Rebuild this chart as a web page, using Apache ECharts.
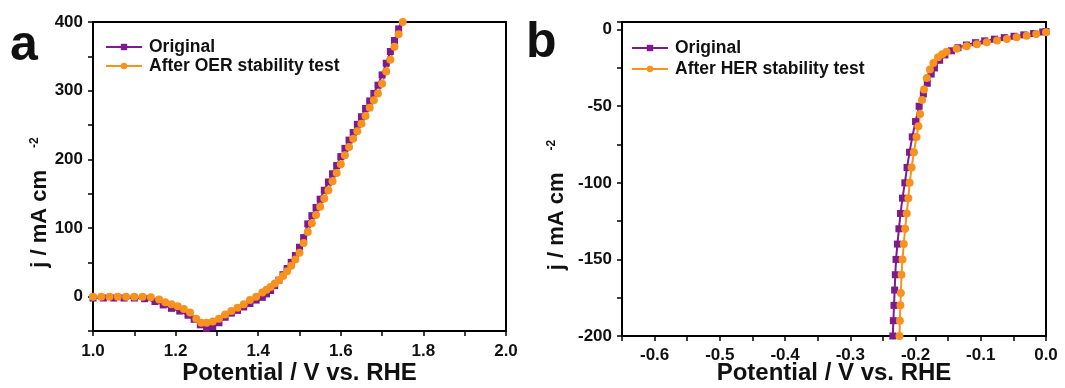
<!DOCTYPE html>
<html>
<head>
<meta charset="utf-8">
<script src="https://cdn.jsdelivr.net/npm/echarts@6/dist/echarts.min.js"></script>
<style>
html,body{margin:0;padding:0;background:#fff;}
#c{width:1065px;height:388px;}
</style>
</head>
<body>
<div id="c"></div>
<script>
// ---- Panel a (OER) ----
const oerOrigX = [1.000,1.025,1.050,1.075,1.100,1.125,1.150,1.170,1.190,1.210,1.230,1.245,1.260,1.275,1.290,1.305,1.320,1.335,1.350,1.365,1.380,1.395,1.410,1.420,1.430,1.440,1.450,1.460,1.470,1.480,1.490,1.500,1.510,1.520,1.530,1.540,1.550,1.560,1.570,1.580,1.590,1.600,1.610,1.620,1.630,1.640,1.650,1.660,1.670,1.680,1.690,1.700,1.710,1.720,1.730,1.740,1.750];
const oerOrigY = [-2,-2,-2,-2,-2,-3,-7,-12,-17,-21,-27,-33,-41,-46,-44,-38,-30,-24,-20,-15,-10,-5,-1,4,9,16,24,32,41,50,60,72,86,106,118,130,142,155,167,179,191,204,216,228,239,251,262,274,285,296,308,323,340,357,373,390,407];
const oerAfterX = [1.000,1.020,1.040,1.060,1.080,1.100,1.120,1.140,1.160,1.175,1.190,1.205,1.220,1.235,1.250,1.262,1.275,1.290,1.305,1.320,1.335,1.350,1.365,1.380,1.395,1.410,1.420,1.430,1.440,1.450,1.460,1.470,1.480,1.490,1.500,1.510,1.520,1.530,1.540,1.550,1.560,1.570,1.580,1.590,1.600,1.610,1.620,1.630,1.640,1.650,1.660,1.670,1.680,1.690,1.700,1.710,1.720,1.730,1.740,1.750];
const oerAfterY = [0,0,0,0,0,0,0,-1,-4,-8,-11,-14,-18,-23,-32,-38,-38,-36,-32,-26,-21,-16,-11,-5,0,6,10,14,19,24,30,37,45,54,64,78,94,107,119,131,143,155,168,180,193,206,218,230,241,252,263,275,286,296,310,328,345,364,382,400];

// ---- Panel b (HER) ----
const herOrigX = [-0.2355,-0.2348,-0.2340,-0.2330,-0.2320,-0.2310,-0.2299,-0.2278,-0.2255,-0.2230,-0.2200,-0.2164,-0.2130,-0.2092,-0.2050,-0.2000,-0.1945,-0.1880,-0.1820,-0.1760,-0.1710,-0.1630,-0.1550,-0.1450,-0.1350,-0.1220,-0.1080,-0.0940,-0.0790,-0.0640,-0.0490,-0.0340,-0.0190,-0.0050,0.0];
const herOrigY = [-210,-200,-190,-180,-170,-160,-150,-140,-130,-120,-110,-100,-90,-80,-70,-60,-50,-42,-35,-29,-25,-20,-16.5,-13.8,-11.8,-10,-8.5,-7.3,-6.2,-5.2,-4.3,-3.4,-2.5,-1.5,-1.2];
const herAfterX = [-0.2250,-0.2246,-0.2240,-0.2232,-0.2225,-0.2215,-0.2200,-0.2180,-0.2160,-0.2135,-0.2110,-0.2090,-0.2060,-0.2025,-0.1985,-0.1956,-0.1930,-0.1900,-0.1870,-0.1827,-0.1780,-0.1726,-0.1655,-0.1590,-0.1524,-0.1370,-0.1215,-0.1060,-0.0908,-0.0750,-0.0600,-0.0450,-0.0296,-0.0150,0.0];
const herAfterY = [-210,-200,-190,-180,-172,-160,-150,-140,-130,-120,-110,-100,-90,-80,-70,-63,-55,-46,-39,-31.5,-26,-21.7,-18,-16,-14.5,-12.5,-10.9,-9.5,-8.3,-7.1,-6.1,-5,-3.9,-2.8,-1.7];

// ---- axis tick labels ----
const xTicksA = [1.0, 1.2, 1.4, 1.6, 1.8, 2.0];
const yTicksA = [0, 100, 200, 300, 400];
const xTicksB = [-0.6, -0.5, -0.4, -0.3, -0.2, -0.1, 0.0];
const yTicksB = [0, -50, -100, -150, -200];

const legendA = ['Original', 'After OER stability test'];
const legendB = ['Original', 'After HER stability test'];

const PURPLE = '#7D1A8E';
const ORANGE = '#F7921E';
const FONT = 'Liberation Sans, Arial, sans-serif';

function pairs(xs, ys){ return xs.map((x,i)=>[x, ys[i]]); }
function near(v, list){ return list.some(t => Math.abs(t - v) < 1e-6); }

const axisCommon = {
  axisLine: {show:true, onZero:false, lineStyle:{color:'#000', width:2}},
  axisTick: {show:true, inside:false, length:5, lineStyle:{color:'#000', width:1.5}},
  splitLine: {show:false},
  nameMoveOverlap: false,
  axisLabel: {color:'#111', fontWeight:'bold', fontSize:17, fontFamily:FONT}
};

const yName = '{m|j / mA cm}{s|-2}';
const yNameStyle = {
  color:'#111', fontFamily:FONT, padding:[0,52,0,0],
  rich:{
    m:{fontSize:22, fontWeight:'bold', fontFamily:FONT, color:'#111'},
    s:{fontSize:12, fontWeight:'bold', fontFamily:FONT, color:'#111', verticalAlign:'top', padding:[0,0,0,22]}
  }
};

function lineSeries(name, data, color, symbol, size, xi){
  return {
    name, type:'line', xAxisIndex:xi, yAxisIndex:xi, data,
    symbol, symbolSize:size, showSymbol:true,
    lineStyle:{color, width:2}, itemStyle:{color},
    animation:false, clip:true
  };
}

const legendText = {fontWeight:'bold', fontSize:17.5, fontFamily:FONT, color:'#111', padding:[0,0,0,2]};

const option = {
  backgroundColor:'#fff',
  animation:false,
  grid:[
    {left:93, top:22, width:413, height:309, show:true, borderColor:'#000', borderWidth:2, backgroundColor:'transparent', containLabel:false, outerBoundsMode:'none'},
    {left:622, top:22, width:424, height:314, show:true, borderColor:'#000', borderWidth:2, backgroundColor:'transparent', containLabel:false, outerBoundsMode:'none'}
  ],
  xAxis:[
    Object.assign({}, axisCommon, {
      type:'value', gridIndex:0, min:1.0, max:2.0, interval:0.1,
      axisLabel:Object.assign({}, axisCommon.axisLabel, {margin:12,
        formatter:v => near(v, xTicksA) ? v.toFixed(1) : ''}),
      name:'Potential / V vs. RHE', nameLocation:'middle', nameGap:30,
      nameTextStyle:{fontSize:24, fontWeight:'bold', fontFamily:FONT, color:'#111'}
    }),
    Object.assign({}, axisCommon, {
      type:'value', gridIndex:1, min:-0.65, max:0, interval:0.05,
      axisLabel:Object.assign({}, axisCommon.axisLabel, {margin:11,
        formatter:v => near(v, xTicksB) ? (Math.abs(v)<1e-9 ? '0.0' : v.toFixed(1)) : ''}),
      name:'Potential / V vs. RHE', nameLocation:'middle', nameGap:25,
      nameTextStyle:{fontSize:24, fontWeight:'bold', fontFamily:FONT, color:'#111'}
    })
  ],
  yAxis:[
    Object.assign({}, axisCommon, {
      type:'value', gridIndex:0, min:-50, max:400, interval:50,
      axisLabel:Object.assign({}, axisCommon.axisLabel, {margin:10,
        formatter:v => near(v, yTicksA) ? String(Math.round(v)) : ''}),
      name:yName, nameLocation:'middle', nameGap:42, nameTextStyle:yNameStyle
    }),
    Object.assign({}, axisCommon, {
      type:'value', gridIndex:1, min:-200, max:5, interval:25,
      axisLabel:Object.assign({}, axisCommon.axisLabel, {margin:10,
        formatter:v => near(v, yTicksB) ? String(Math.round(v)) : ''}),
      name:yName, nameLocation:'middle', nameGap:54, nameTextStyle:yNameStyle
    })
  ],
  legend:[
    {data:legendA, orient:'vertical', left:100, top:33, itemWidth:36, itemHeight:8, itemGap:1,
     textStyle:legendText},
    {data:legendB, orient:'vertical', left:626, top:34, itemWidth:36, itemHeight:8, itemGap:3,
     textStyle:legendText}
  ],
  graphic:[
    {type:'text', left:10, top:21, style:{text:'a', font:'bold 50px ' + FONT, fill:'#111'}},
    {type:'text', left:526, top:18, style:{text:'b', font:'bold 50px ' + FONT, fill:'#111'}}
  ],
  series:[
    lineSeries('Original', pairs(oerOrigX, oerOrigY), PURPLE, 'rect', 7, 0),
    lineSeries('After OER stability test', pairs(oerAfterX, oerAfterY), ORANGE, 'circle', 8, 0),
    lineSeries('Original', pairs(herOrigX, herOrigY), PURPLE, 'rect', 7, 1),
    lineSeries('After HER stability test', pairs(herAfterX, herAfterY), ORANGE, 'circle', 8, 1)
  ]
};

const chart = echarts.init(document.getElementById('c'), null, {renderer:'canvas'});
chart.setOption(option);
</script>
</body>
</html>
